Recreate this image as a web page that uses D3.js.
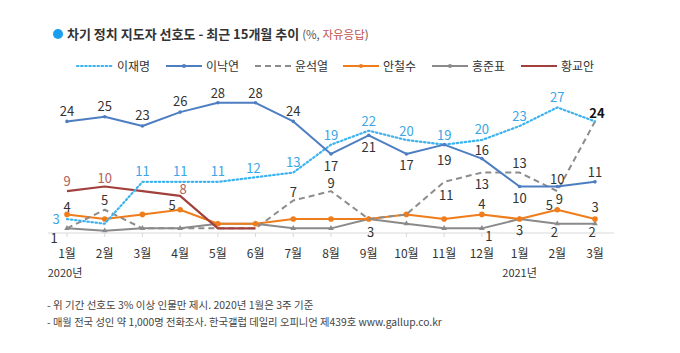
<!DOCTYPE html>
<meta charset="utf-8">
<script src="https://d3js.org/d3.v7.min.js"></script>
<style>
  body { margin: 0; background: #fff; }
  text { font-family: "Noto Sans CJK KR", "Noto Sans", sans-serif; }
</style>
<div id="chart"></div>
<script>
// months on the x axis
var months = ["1월","2월","3월","4월","5월","6월","7월","8월","9월","10월","11월","12월","1월","2월","3월"];

// preference (%) per person
var leeJM  = [3, 2, 11, 11, 11, 12, 13, 19, 22, 20, 19, 20, 23, 27, 24];
var leeNY  = [24, 25, 23, 26, 28, 28, 24, 17, 21, 17, 19, 16, 10, 10, 11];
var yoonSY = [1, 5, 1, 1, 1, 1, 7, 9, 3, 4, 11, 13, 13, 9, 24];
var ahnCS  = [4, 3, 4, 5, 2, 2, 3, 3, 3, 4, 3, 4, 3, 5, 3];
var hongJP = [1, 0.5, 1, 1, 2, 2, 1, 1, 3, 2, 1, 1, 3, 2, 2];
var hwangKA = [9, 10, 9, 8, 1, 1];

var width = 680, height = 353;

var svg = d3.select("#chart").append("svg")
    .attr("width", width)
    .attr("height", height);

var x = d3.scalePoint()
    .domain(d3.range(months.length))
    .range([67, 595]);

var y = d3.scaleLinear()
    .domain([0, 30])
    .range([233, 93.5]);

// series styling + which points get a value label ([index, dx, dy])
var series = [
  { name: "이재명", values: leeJM, color: "#3db3ef", width: 2.2, dash: "1.5,2.6", cap: "round", marker: null,
    labelColor: "#3aa6e6",
    labels: [[0,-11,5],[2,0,-6],[3,0,-6],[4,0,-6],[5,-2,-4],[6,0,-6],[7,0,-5],[8,0,-5],[9,0,-4],[10,0,-5],[11,0,-6],[12,0,-5],[13,0,-5]] },
  { name: "이낙연", values: leeNY, color: "#4e7ec2", width: 2, dash: null, marker: "plus",
    labelColor: "#333",
    labels: [[0,0,-5],[1,0,-6],[2,0,-6],[3,0,-6],[4,0,-5],[5,0,-5],[6,0,-5],[7,0,17],[8,0,17],[9,0,16],[10,0,20],[11,0,-4],[12,0,16],[13,0,-3],[14,0,-5]] },
  { name: "윤석열", values: yoonSY, color: "#8c8c8c", width: 2, dash: "6,4", marker: null,
    labelColor: "#333",
    labels: [[1,0,-5],[6,0,-3],[7,0,-3],[8,2,18],[10,2,18],[11,0,16],[12,0,-5],[13,2,13],[14,2,-3,"bold"]] },
  { name: "안철수", values: ahnCS, color: "#ef7d1b", width: 2, dash: null, marker: "circle",
    labelColor: "#333",
    labels: [[0,0,-2],[3,-8,0],[11,0,-5],[13,-8,0],[14,0,-7]] },
  { name: "홍준표", values: hongJP, color: "#8a8a8a", width: 2, dash: null, marker: "tri",
    labelColor: "#333",
    labels: [[0,-13,15],[11,7,13],[12,0,16],[13,-3,13],[14,-3,13]] },
  { name: "황교안", values: hwangKA, color: "#a2403e", width: 2.2, dash: null, marker: null,
    labelColor: "#b0605c",
    labels: [[0,0,-5],[1,0,-4],[3,3,-2]] }
];

// title
svg.append("circle").attr("cx", 58).attr("cy", 34).attr("r", 5).attr("fill", "#1a9ff0");
var title = svg.append("text").attr("x", 67).attr("y", 39)
    .style("font-size", "13px").attr("fill", "#333");
title.append("tspan").style("font-weight", "bold").text("차기 정치 지도자 선호도 - 최근 15개월 추이 ");
title.append("tspan").style("font-size", "11.5px").attr("fill", "#555").text("(%, ");
title.append("tspan").style("font-size", "11.5px").attr("fill", "#c0504d").text("자유응답");
title.append("tspan").style("font-size", "11.5px").attr("fill", "#555").text(")");

// legend
var legendX = [77, 166, 255, 343, 432, 521];
var legend = svg.append("g").selectAll("g")
    .data(series).enter().append("g")
    .attr("transform", function(d, i) { return "translate(" + legendX[i] + ",66)"; });
legend.append("line")
    .attr("x1", 0).attr("x2", 36)
    .attr("stroke", function(d) { return d.color; })
    .attr("stroke-width", function(d) { return d.width; })
    .attr("stroke-dasharray", function(d) { return d.dash; })
    .attr("stroke-linecap", function(d) { return d.cap || "butt"; });
legend.filter(function(d) { return d.marker; })
    .append("circle").attr("cx", 18).attr("r", 2)
    .attr("fill", function(d) { return d.color; });
legend.append("text")
    .attr("x", 40).attr("y", 4.5)
    .style("font-size", "12px").attr("fill", "#333")
    .text(function(d) { return d.name; });

// x axis baseline and ticks
svg.append("line")
    .attr("x1", 48).attr("x2", 614)
    .attr("y1", y(0)).attr("y2", y(0))
    .attr("stroke", "#d9d9d9");
svg.append("g").selectAll("line")
    .data(d3.range(months.length)).enter().append("line")
    .attr("x1", function(d) { return x(d); }).attr("x2", function(d) { return x(d); })
    .attr("y1", y(0)).attr("y2", y(0) + 4)
    .attr("stroke", "#d9d9d9");
svg.append("g").selectAll("text")
    .data(months).enter().append("text")
    .attr("x", function(d, i) { return x(i); })
    .attr("y", 258)
    .attr("text-anchor", "middle")
    .style("font-size", "12px").attr("fill", "#333")
    .text(function(d) { return d; });
svg.append("text").attr("x", x(0) - 2).attr("y", 277).attr("text-anchor", "middle")
    .style("font-size", "11px").attr("fill", "#333").text("2020년");
svg.append("text").attr("x", x(12)).attr("y", 277).attr("text-anchor", "middle")
    .style("font-size", "11px").attr("fill", "#333").text("2021년");

var line = d3.line()
    .x(function(d, i) { return x(i); })
    .y(function(d) { return y(d); });

// draw in back-to-front order similar to the original
var order = [4, 3, 2, 5, 0, 1];
order.forEach(function(k) {
  var s = series[k];
  var g = svg.append("g");
  g.append("path")
    .datum(s.values)
    .attr("fill", "none")
    .attr("stroke", s.color)
    .attr("stroke-width", s.width)
    .attr("stroke-dasharray", s.dash)
    .attr("stroke-linecap", s.cap || "butt")
    .attr("stroke-linejoin", "round")
    .attr("d", line);
  if (s.marker === "circle") {
    g.selectAll("circle").data(s.values).enter().append("circle")
      .attr("cx", function(d, i) { return x(i); })
      .attr("cy", function(d) { return y(d); })
      .attr("r", 2.8).attr("fill", s.color);
  } else if (s.marker === "plus") {
    g.selectAll("circle").data(s.values).enter().append("circle")
      .attr("cx", function(d, i) { return x(i); })
      .attr("cy", function(d) { return y(d); })
      .attr("r", 1.8).attr("fill", s.color);
  } else if (s.marker === "tri") {
    g.selectAll("path.m").data(s.values).enter().append("path")
      .attr("class", "m")
      .attr("transform", function(d, i) { return "translate(" + x(i) + "," + y(d) + ")"; })
      .attr("d", d3.symbol().type(d3.symbolTriangle).size(14))
      .attr("fill", s.color);
  }
});

// value labels
series.forEach(function(s) {
  svg.append("g").selectAll("text")
    .data(s.labels).enter().append("text")
    .attr("x", function(d) { return x(d[0]) + d[1]; })
    .attr("y", function(d) { return y(s.values[d[0]]) + d[2]; })
    .attr("text-anchor", "middle")
    .style("font-size", "13px")
    .style("font-weight", function(d) { return d[3] || "normal"; })
    .attr("fill", function(d) { return d[3] ? "#111" : s.labelColor; })
    .text(function(d) { return s.values[d[0]]; });
});

// footnotes
svg.append("text").attr("x", 47).attr("y", 309)
    .style("font-size", "10.5px").attr("fill", "#444")
    .text("- 위 기간 선호도 3% 이상 인물만 제시. 2020년 1월은 3주 기준");
svg.append("text").attr("x", 47).attr("y", 326)
    .style("font-size", "10.3px").attr("fill", "#444")
    .text("- 매월 전국 성인 약 1,000명 전화조사. 한국갤럽 데일리 오피니언 제439호 www.gallup.co.kr");
</script>
